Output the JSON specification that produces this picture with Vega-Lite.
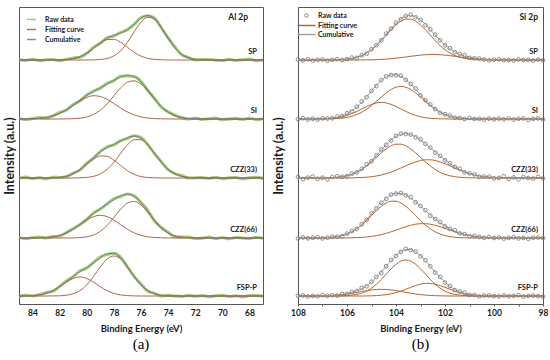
{
"$schema": "https://vega.github.io/schema/vega-lite/v6.json",
"padding": {"left": 2, "top": 6, "right": 2, "bottom": 0},
"spacing": 1,
"datasets": {
"al": [
{"s":"SP","x":85,"a":244,"b":244,"c":244,"r":244.5},
{"s":"SP","x":84.5,"a":244,"b":244,"c":244,"r":243.6},
{"s":"SP","x":84,"a":244,"b":244,"c":244,"r":244.8},
{"s":"SP","x":83.5,"a":244,"b":244,"c":244,"r":243.3},
{"s":"SP","x":83,"a":244,"b":244,"c":244,"r":244.3},
{"s":"SP","x":82.5,"a":244,"b":244,"c":244,"r":244.6},
{"s":"SP","x":82,"a":244,"b":244.1,"c":244.1,"r":243.2},
{"s":"SP","x":81.5,"a":244,"b":244.5,"c":244.5,"r":244.7},
{"s":"SP","x":81,"a":244,"b":245.4,"c":245.4,"r":246.1},
{"s":"SP","x":80.5,"a":244,"b":247.3,"c":247.3,"r":246.8},
{"s":"SP","x":80,"a":244,"b":250.8,"c":250.8,"r":250.6},
{"s":"SP","x":79.5,"a":244.1,"b":255.7,"c":255.8,"r":256.7},
{"s":"SP","x":79,"a":244.5,"b":260.8,"c":261.3,"r":260.7},
{"s":"SP","x":78.5,"a":245.5,"b":264.4,"c":265.9,"r":266.3},
{"s":"SP","x":78,"a":248.1,"b":264.7,"c":268.8,"r":268.0},
{"s":"SP","x":77.5,"a":253.3,"b":261.7,"c":271.0,"r":271.5},
{"s":"SP","x":77,"a":261.7,"b":256.7,"c":274.4,"r":274.4},
{"s":"SP","x":76.5,"a":272.3,"b":251.7,"c":280.0,"r":279.6},
{"s":"SP","x":76,"a":281.9,"b":247.9,"c":285.8,"r":286.5},
{"s":"SP","x":75.5,"a":286.8,"b":245.7,"c":288.5,"r":288.2},
{"s":"SP","x":75,"a":284.7,"b":244.6,"c":285.3,"r":285.9},
{"s":"SP","x":74.5,"a":276.5,"b":244.2,"c":276.7,"r":276.0},
{"s":"SP","x":74,"a":265.8,"b":244,"c":265.8,"r":266.1},
{"s":"SP","x":73.5,"a":256.3,"b":244,"c":256.3,"r":257.1},
{"s":"SP","x":73,"a":249.8,"b":244,"c":249.8,"r":249.3},
{"s":"SP","x":72.5,"a":246.3,"b":244,"c":246.3,"r":246.5},
{"s":"SP","x":72,"a":244.8,"b":244,"c":244.8,"r":243.9},
{"s":"SP","x":71.5,"a":244.2,"b":244,"c":244.2,"r":244.6},
{"s":"SP","x":71,"a":244,"b":244,"c":244,"r":244.6},
{"s":"SP","x":70.5,"a":244,"b":244,"c":244,"r":243.8},
{"s":"SP","x":70,"a":244,"b":244,"c":244,"r":243.4},
{"s":"SP","x":69.5,"a":244,"b":244,"c":244,"r":244.7},
{"s":"SP","x":69,"a":244,"b":244,"c":244,"r":243.6},
{"s":"SP","x":68.5,"a":244,"b":244,"c":244,"r":244.3},
{"s":"SP","x":68,"a":244,"b":244,"c":244,"r":244.9},
{"s":"SP","x":67.5,"a":244,"b":244,"c":244,"r":243.3},
{"s":"SP","x":67,"a":244,"b":244,"c":244,"r":244.1},
{"s":"SI","x":85,"a":185,"b":185,"c":185,"r":185.6},
{"s":"SI","x":84.5,"a":185,"b":185.1,"c":185.1,"r":184.2},
{"s":"SI","x":84,"a":185,"b":185.3,"c":185.3,"r":185.5},
{"s":"SI","x":83.5,"a":185,"b":185.7,"c":185.7,"r":186.4},
{"s":"SI","x":83,"a":185,"b":186.6,"c":186.6,"r":186.1},
{"s":"SI","x":82.5,"a":185,"b":188.2,"c":188.2,"r":188.0},
{"s":"SI","x":82,"a":185,"b":190.7,"c":190.7,"r":191.6},
{"s":"SI","x":81.5,"a":185.1,"b":194.3,"c":194.4,"r":193.8},
{"s":"SI","x":81,"a":185.3,"b":198.7,"c":199.0,"r":199.4},
{"s":"SI","x":80.5,"a":185.8,"b":203.1,"c":203.9,"r":203.1},
{"s":"SI","x":80,"a":187.0,"b":206.6,"c":208.6,"r":209.1},
{"s":"SI","x":79.5,"a":189.5,"b":208.3,"c":212.8,"r":212.8},
{"s":"SI","x":79,"a":193.8,"b":207.5,"c":216.3,"r":215.9},
{"s":"SI","x":78.5,"a":200.2,"b":204.7,"c":219.9,"r":220.6},
{"s":"SI","x":78,"a":208.2,"b":200.5,"c":223.7,"r":223.4},
{"s":"SI","x":77.5,"a":216.1,"b":196.0,"c":227.1,"r":227.7},
{"s":"SI","x":77,"a":221.8,"b":192.0,"c":228.8,"r":228.1},
{"s":"SI","x":76.5,"a":223.2,"b":189.1,"c":227.3,"r":227.6},
{"s":"SI","x":76,"a":219.9,"b":187.1,"c":222.0,"r":222.8},
{"s":"SI","x":75.5,"a":213.1,"b":186.0,"c":214.1,"r":213.6},
{"s":"SI","x":75,"a":204.9,"b":185.4,"c":205.3,"r":205.5},
{"s":"SI","x":74.5,"a":197.4,"b":185.2,"c":197.6,"r":196.7},
{"s":"SI","x":74,"a":191.8,"b":185.1,"c":191.9,"r":192.3},
{"s":"SI","x":73.5,"a":188.3,"b":185,"c":188.3,"r":188.9},
{"s":"SI","x":73,"a":186.4,"b":185,"c":186.4,"r":186.2},
{"s":"SI","x":72.5,"a":185.5,"b":185,"c":185.5,"r":184.9},
{"s":"SI","x":72,"a":185.2,"b":185,"c":185.2,"r":185.9},
{"s":"SI","x":71.5,"a":185,"b":185,"c":185,"r":184.6},
{"s":"SI","x":71,"a":185,"b":185,"c":185,"r":185.3},
{"s":"SI","x":70.5,"a":185,"b":185,"c":185,"r":185.9},
{"s":"SI","x":70,"a":185,"b":185,"c":185,"r":184.3},
{"s":"SI","x":69.5,"a":185,"b":185,"c":185,"r":185.1},
{"s":"SI","x":69,"a":185,"b":185,"c":185,"r":185.5},
{"s":"SI","x":68.5,"a":185,"b":185,"c":185,"r":184.6},
{"s":"SI","x":68,"a":185,"b":185,"c":185,"r":185.8},
{"s":"SI","x":67.5,"a":185,"b":185,"c":185,"r":184.3},
{"s":"SI","x":67,"a":185,"b":185,"c":185,"r":185.3},
{"s":"CZZ(33)","x":85,"a":126,"b":126,"c":126,"r":125.8},
{"s":"CZZ(33)","x":84.5,"a":126,"b":126,"c":126,"r":126.9},
{"s":"CZZ(33)","x":84,"a":126,"b":126,"c":126,"r":125.4},
{"s":"CZZ(33)","x":83.5,"a":126,"b":126,"c":126,"r":126.4},
{"s":"CZZ(33)","x":83,"a":126,"b":126,"c":126,"r":125.2},
{"s":"CZZ(33)","x":82.5,"a":126,"b":126.2,"c":126.2,"r":126.7},
{"s":"CZZ(33)","x":82,"a":126,"b":126.6,"c":126.6,"r":126.6},
{"s":"CZZ(33)","x":81.5,"a":126,"b":127.8,"c":127.8,"r":127.4},
{"s":"CZZ(33)","x":81,"a":126,"b":130.2,"c":130.2,"r":130.9},
{"s":"CZZ(33)","x":80.5,"a":126.2,"b":134.2,"c":134.4,"r":134.1},
{"s":"CZZ(33)","x":80,"a":126.6,"b":139.6,"c":140.2,"r":140.8},
{"s":"CZZ(33)","x":79.5,"a":127.7,"b":144.9,"c":146.6,"r":145.9},
{"s":"CZZ(33)","x":79,"a":130.1,"b":148.1,"c":152.2,"r":152.5},
{"s":"CZZ(33)","x":78.5,"a":134.7,"b":147.7,"c":156.4,"r":157.2},
{"s":"CZZ(33)","x":78,"a":141.7,"b":143.9,"c":159.6,"r":159.1},
{"s":"CZZ(33)","x":77.5,"a":150.6,"b":138.5,"c":163.1,"r":163.3},
{"s":"CZZ(33)","x":77,"a":159.1,"b":133.3,"c":166.4,"r":165.5},
{"s":"CZZ(33)","x":76.5,"a":164.3,"b":129.6,"c":167.9,"r":168.3},
{"s":"CZZ(33)","x":76,"a":164.3,"b":127.5,"c":165.8,"r":166.4},
{"s":"CZZ(33)","x":75.5,"a":159.1,"b":126.5,"c":159.6,"r":159.4},
{"s":"CZZ(33)","x":75,"a":150.6,"b":126.2,"c":150.8,"r":150.2},
{"s":"CZZ(33)","x":74.5,"a":141.7,"b":126,"c":141.7,"r":142.4},
{"s":"CZZ(33)","x":74,"a":134.7,"b":126,"c":134.7,"r":134.3},
{"s":"CZZ(33)","x":73.5,"a":130.1,"b":126,"c":130.1,"r":130.4},
{"s":"CZZ(33)","x":73,"a":127.7,"b":126,"c":127.7,"r":128.6},
{"s":"CZZ(33)","x":72.5,"a":126.6,"b":126,"c":126.6,"r":125.9},
{"s":"CZZ(33)","x":72,"a":126.2,"b":126,"c":126.2,"r":126.3},
{"s":"CZZ(33)","x":71.5,"a":126,"b":126,"c":126,"r":126.5},
{"s":"CZZ(33)","x":71,"a":126,"b":126,"c":126,"r":125.6},
{"s":"CZZ(33)","x":70.5,"a":126,"b":126,"c":126,"r":126.8},
{"s":"CZZ(33)","x":70,"a":126,"b":126,"c":126,"r":125.3},
{"s":"CZZ(33)","x":69.5,"a":126,"b":126,"c":126,"r":126.3},
{"s":"CZZ(33)","x":69,"a":126,"b":126,"c":126,"r":126.6},
{"s":"CZZ(33)","x":68.5,"a":126,"b":126,"c":126,"r":125.1},
{"s":"CZZ(33)","x":68,"a":126,"b":126,"c":126,"r":126.2},
{"s":"CZZ(33)","x":67.5,"a":126,"b":126,"c":126,"r":126.7},
{"s":"CZZ(33)","x":67,"a":126,"b":126,"c":126,"r":125.5},
{"s":"CZZ(66)","x":85,"a":66,"b":66,"c":66,"r":66.6},
{"s":"CZZ(66)","x":84.5,"a":66,"b":66,"c":66,"r":65.3},
{"s":"CZZ(66)","x":84,"a":66,"b":66.1,"c":66.1,"r":66.4},
{"s":"CZZ(66)","x":83.5,"a":66,"b":66.2,"c":66.2,"r":67.0},
{"s":"CZZ(66)","x":83,"a":66,"b":66.5,"c":66.5,"r":66.0},
{"s":"CZZ(66)","x":82.5,"a":66,"b":67.2,"c":67.2,"r":67.4},
{"s":"CZZ(66)","x":82,"a":66,"b":68.7,"c":68.7,"r":67.8},
{"s":"CZZ(66)","x":81.5,"a":66,"b":71.1,"c":71.1,"r":71.5},
{"s":"CZZ(66)","x":81,"a":66.1,"b":74.8,"c":74.9,"r":75.5},
{"s":"CZZ(66)","x":80.5,"a":66.4,"b":79.3,"c":79.7,"r":79.5},
{"s":"CZZ(66)","x":80,"a":67.2,"b":83.9,"c":85.1,"r":84.5},
{"s":"CZZ(66)","x":79.5,"a":69.0,"b":87.4,"c":90.4,"r":91.1},
{"s":"CZZ(66)","x":79,"a":72.7,"b":88.7,"c":95.4,"r":95.0},
{"s":"CZZ(66)","x":78.5,"a":78.6,"b":87.4,"c":100.0,"r":100.3},
{"s":"CZZ(66)","x":78,"a":86.5,"b":83.9,"c":104.4,"r":105.3},
{"s":"CZZ(66)","x":77.5,"a":94.9,"b":79.3,"c":108.2,"r":107.5},
{"s":"CZZ(66)","x":77,"a":101.0,"b":74.8,"c":109.8,"r":109.9},
{"s":"CZZ(66)","x":76.5,"a":102.6,"b":71.1,"c":107.7,"r":108.2},
{"s":"CZZ(66)","x":76,"a":99.0,"b":68.7,"c":101.7,"r":101.3},
{"s":"CZZ(66)","x":75.5,"a":91.7,"b":67.2,"c":92.9,"r":93.7},
{"s":"CZZ(66)","x":75,"a":83.2,"b":66.5,"c":83.7,"r":83.0},
{"s":"CZZ(66)","x":74.5,"a":76.0,"b":66.2,"c":76.2,"r":76.5},
{"s":"CZZ(66)","x":74,"a":71.0,"b":66.1,"c":71.1,"r":71.7},
{"s":"CZZ(66)","x":73.5,"a":68.1,"b":66,"c":68.1,"r":67.2},
{"s":"CZZ(66)","x":73,"a":66.8,"b":66,"c":66.8,"r":67.0},
{"s":"CZZ(66)","x":72.5,"a":66.3,"b":66,"c":66.3,"r":67.0},
{"s":"CZZ(66)","x":72,"a":66.1,"b":66,"c":66.1,"r":65.6},
{"s":"CZZ(66)","x":71.5,"a":66,"b":66,"c":66,"r":65.8},
{"s":"CZZ(66)","x":71,"a":66,"b":66,"c":66,"r":66.9},
{"s":"CZZ(66)","x":70.5,"a":66,"b":66,"c":66,"r":65.4},
{"s":"CZZ(66)","x":70,"a":66,"b":66,"c":66,"r":66.4},
{"s":"CZZ(66)","x":69.5,"a":66,"b":66,"c":66,"r":65.2},
{"s":"CZZ(66)","x":69,"a":66,"b":66,"c":66,"r":66.5},
{"s":"CZZ(66)","x":68.5,"a":66,"b":66,"c":66,"r":66.0},
{"s":"CZZ(66)","x":68,"a":66,"b":66,"c":66,"r":65.6},
{"s":"CZZ(66)","x":67.5,"a":66,"b":66,"c":66,"r":66.7},
{"s":"CZZ(66)","x":67,"a":66,"b":66,"c":66,"r":65.7},
{"s":"FSP-P","x":85,"a":8,"b":8,"c":8,"r":7.4},
{"s":"FSP-P","x":84.5,"a":8,"b":8.1,"c":8.1,"r":8.8},
{"s":"FSP-P","x":84,"a":8,"b":8.4,"c":8.4,"r":8.0},
{"s":"FSP-P","x":83.5,"a":8,"b":9.1,"c":9.1,"r":9.4},
{"s":"FSP-P","x":83,"a":8,"b":10.6,"c":10.6,"r":11.5},
{"s":"FSP-P","x":82.5,"a":8.1,"b":13.3,"c":13.4,"r":12.7},
{"s":"FSP-P","x":82,"a":8.2,"b":17.3,"c":17.5,"r":17.6},
{"s":"FSP-P","x":81.5,"a":8.8,"b":21.8,"c":22.6,"r":23.1},
{"s":"FSP-P","x":81,"a":10.3,"b":25.5,"c":27.8,"r":27.4},
{"s":"FSP-P","x":80.5,"a":13.4,"b":27.0,"c":32.4,"r":33.2},
{"s":"FSP-P","x":80,"a":19.1,"b":25.5,"c":36.6,"r":35.9},
{"s":"FSP-P","x":79.5,"a":27.5,"b":21.8,"c":41.3,"r":41.6},
{"s":"FSP-P","x":79,"a":37.1,"b":17.3,"c":46.4,"r":47.0},
{"s":"FSP-P","x":78.5,"a":45.0,"b":13.3,"c":50.3,"r":49.4},
{"s":"FSP-P","x":78,"a":48.0,"b":10.6,"c":50.6,"r":50.8},
{"s":"FSP-P","x":77.5,"a":45.0,"b":9.1,"c":46.1,"r":46.8},
{"s":"FSP-P","x":77,"a":37.1,"b":8.4,"c":37.5,"r":37.0},
{"s":"FSP-P","x":76.5,"a":27.5,"b":8.1,"c":27.6,"r":27.4},
{"s":"FSP-P","x":76,"a":19.1,"b":8,"c":19.1,"r":20.0},
{"s":"FSP-P","x":75.5,"a":13.4,"b":8,"c":13.4,"r":12.8},
{"s":"FSP-P","x":75,"a":10.3,"b":8,"c":10.3,"r":10.7},
{"s":"FSP-P","x":74.5,"a":8.8,"b":8,"c":8.8,"r":8.0},
{"s":"FSP-P","x":74,"a":8.2,"b":8,"c":8.2,"r":8.7},
{"s":"FSP-P","x":73.5,"a":8.1,"b":8,"c":8.1,"r":8.1},
{"s":"FSP-P","x":73,"a":8,"b":8,"c":8,"r":7.6},
{"s":"FSP-P","x":72.5,"a":8,"b":8,"c":8,"r":8.7},
{"s":"FSP-P","x":72,"a":8,"b":8,"c":8,"r":7.7},
{"s":"FSP-P","x":71.5,"a":8,"b":8,"c":8,"r":8.6},
{"s":"FSP-P","x":71,"a":8,"b":8,"c":8,"r":7.3},
{"s":"FSP-P","x":70.5,"a":8,"b":8,"c":8,"r":8.3},
{"s":"FSP-P","x":70,"a":8,"b":8,"c":8,"r":8.8},
{"s":"FSP-P","x":69.5,"a":8,"b":8,"c":8,"r":7.5},
{"s":"FSP-P","x":69,"a":8,"b":8,"c":8,"r":8.2},
{"s":"FSP-P","x":68.5,"a":8,"b":8,"c":8,"r":7.1},
{"s":"FSP-P","x":68,"a":8,"b":8,"c":8,"r":8.4},
{"s":"FSP-P","x":67.5,"a":8,"b":8,"c":8,"r":8.6},
{"s":"FSP-P","x":67,"a":8,"b":8,"c":8,"r":7.8}
],
"si": [
{"s":"SP","x":108,"a":244,"b":244,"c":244,"r":244.4},
{"s":"SP","x":107.8,"a":244,"b":244,"c":244,"r":243.7},
{"s":"SP","x":107.6,"a":244,"b":244,"c":244,"r":244.7},
{"s":"SP","x":107.4,"a":244,"b":244,"c":244,"r":243.4},
{"s":"SP","x":107.2,"a":244,"b":244,"c":244,"r":244.2},
{"s":"SP","x":107,"a":244,"b":244,"c":244,"r":244.5},
{"s":"SP","x":106.8,"a":244,"b":244,"c":244,"r":243.2},
{"s":"SP","x":106.6,"a":244.1,"b":244,"c":244.1,"r":244.2},
{"s":"SP","x":106.4,"a":244.2,"b":244,"c":244.2,"r":244.8},
{"s":"SP","x":106.2,"a":244.5,"b":244,"c":244.5,"r":244.1},
{"s":"SP","x":106,"a":244.9,"b":244,"c":244.9,"r":244.8},
{"s":"SP","x":105.8,"a":245.6,"b":244,"c":245.6,"r":246.4},
{"s":"SP","x":105.6,"a":246.7,"b":244,"c":246.7,"r":246.2},
{"s":"SP","x":105.4,"a":248.4,"b":244.1,"c":248.5,"r":248.8},
{"s":"SP","x":105.2,"a":250.9,"b":244.1,"c":251.0,"r":250.3},
{"s":"SP","x":105,"a":254.2,"b":244.2,"c":254.4,"r":254.8},
{"s":"SP","x":104.8,"a":258.4,"b":244.4,"c":258.8,"r":258.8},
{"s":"SP","x":104.6,"a":263.4,"b":244.6,"c":264.0,"r":263.7},
{"s":"SP","x":104.4,"a":268.9,"b":244.9,"c":269.8,"r":270.4},
{"s":"SP","x":104.2,"a":274.3,"b":245.3,"c":275.6,"r":275.4},
{"s":"SP","x":104,"a":279.1,"b":245.8,"c":280.9,"r":281.4},
{"s":"SP","x":103.8,"a":282.8,"b":246.4,"c":285.2,"r":284.6},
{"s":"SP","x":103.6,"a":284.8,"b":247.0,"c":287.8,"r":288.0},
{"s":"SP","x":103.4,"a":284.8,"b":247.7,"c":288.5,"r":289.2},
{"s":"SP","x":103.2,"a":282.8,"b":248.3,"c":287.1,"r":286.7},
{"s":"SP","x":103,"a":279.1,"b":248.9,"c":284.0,"r":284.1},
{"s":"SP","x":102.8,"a":274.3,"b":249.3,"c":279.6,"r":278.8},
{"s":"SP","x":102.6,"a":268.9,"b":249.5,"c":274.4,"r":274.7},
{"s":"SP","x":102.4,"a":263.4,"b":249.5,"c":268.9,"r":269.4},
{"s":"SP","x":102.2,"a":258.4,"b":249.3,"c":263.7,"r":263.6},
{"s":"SP","x":102,"a":254.2,"b":248.9,"c":259.1,"r":258.6},
{"s":"SP","x":101.8,"a":250.9,"b":248.3,"c":255.2,"r":255.8},
{"s":"SP","x":101.6,"a":248.4,"b":247.7,"c":252.1,"r":251.8},
{"s":"SP","x":101.4,"a":246.7,"b":247.0,"c":249.7,"r":249.9},
{"s":"SP","x":101.2,"a":245.6,"b":246.4,"c":248.0,"r":248.8},
{"s":"SP","x":101,"a":244.9,"b":245.8,"c":246.7,"r":246.1},
{"s":"SP","x":100.8,"a":244.5,"b":245.3,"c":245.8,"r":245.8},
{"s":"SP","x":100.6,"a":244.2,"b":244.9,"c":245.1,"r":245.5},
{"s":"SP","x":100.4,"a":244.1,"b":244.6,"c":244.7,"r":244.5},
{"s":"SP","x":100.2,"a":244,"b":244.4,"c":244.4,"r":243.7},
{"s":"SP","x":100,"a":244,"b":244.2,"c":244.2,"r":244.5},
{"s":"SP","x":99.8,"a":244,"b":244.1,"c":244.1,"r":244.7},
{"s":"SP","x":99.6,"a":244,"b":244.1,"c":244.1,"r":243.7},
{"s":"SP","x":99.4,"a":244,"b":244,"c":244,"r":244.1},
{"s":"SP","x":99.2,"a":244,"b":244,"c":244,"r":243.5},
{"s":"SP","x":99,"a":244,"b":244,"c":244,"r":244.7},
{"s":"SP","x":98.8,"a":244,"b":244,"c":244,"r":243.9},
{"s":"SP","x":98.6,"a":244,"b":244,"c":244,"r":244.2},
{"s":"SP","x":98.4,"a":244,"b":244,"c":244,"r":243.4},
{"s":"SP","x":98.2,"a":244,"b":244,"c":244,"r":244.4},
{"s":"SP","x":98,"a":244,"b":244,"c":244,"r":243.7},
{"s":"SI","x":108,"a":185,"b":185,"c":185,"r":184.9},
{"s":"SI","x":107.8,"a":185,"b":185,"c":185,"r":185.8},
{"s":"SI","x":107.6,"a":185,"b":185,"c":185,"r":184.5},
{"s":"SI","x":107.4,"a":185,"b":185,"c":185,"r":185.3},
{"s":"SI","x":107.2,"a":185,"b":185.1,"c":185.1,"r":184.4},
{"s":"SI","x":107,"a":185,"b":185.2,"c":185.2,"r":185.6},
{"s":"SI","x":106.8,"a":185.1,"b":185.4,"c":185.5,"r":185.5},
{"s":"SI","x":106.6,"a":185.3,"b":185.7,"c":186.0,"r":185.7},
{"s":"SI","x":106.4,"a":185.5,"b":186.3,"c":186.8,"r":187.4},
{"s":"SI","x":106.2,"a":185.9,"b":187.2,"c":188.1,"r":187.9},
{"s":"SI","x":106,"a":186.6,"b":188.6,"c":190.2,"r":190.7},
{"s":"SI","x":105.8,"a":187.8,"b":190.4,"c":193.2,"r":192.6},
{"s":"SI","x":105.6,"a":189.4,"b":192.6,"c":197.0,"r":197.2},
{"s":"SI","x":105.4,"a":191.7,"b":195.1,"c":201.8,"r":202.5},
{"s":"SI","x":105.2,"a":194.7,"b":197.5,"c":207.2,"r":206.8},
{"s":"SI","x":105,"a":198.4,"b":199.6,"c":213.0,"r":213.1},
{"s":"SI","x":104.8,"a":202.6,"b":201.1,"c":218.7,"r":217.9},
{"s":"SI","x":104.6,"a":207.0,"b":201.6,"c":223.6,"r":223.9},
{"s":"SI","x":104.4,"a":211.1,"b":201.1,"c":227.2,"r":227.7},
{"s":"SI","x":104.2,"a":214.5,"b":199.6,"c":229.1,"r":229.0},
{"s":"SI","x":104,"a":216.8,"b":197.5,"c":229.3,"r":228.8},
{"s":"SI","x":103.8,"a":217.6,"b":195.1,"c":227.7,"r":228.3},
{"s":"SI","x":103.6,"a":216.8,"b":192.6,"c":224.4,"r":224.1},
{"s":"SI","x":103.4,"a":214.5,"b":190.4,"c":219.9,"r":220.1},
{"s":"SI","x":103.2,"a":211.1,"b":188.6,"c":214.7,"r":215.5},
{"s":"SI","x":103,"a":207.0,"b":187.2,"c":209.2,"r":208.6},
{"s":"SI","x":102.8,"a":202.6,"b":186.3,"c":203.9,"r":203.9},
{"s":"SI","x":102.6,"a":198.4,"b":185.7,"c":199.1,"r":199.5},
{"s":"SI","x":102.4,"a":194.7,"b":185.4,"c":195.1,"r":194.9},
{"s":"SI","x":102.2,"a":191.7,"b":185.2,"c":191.9,"r":191.2},
{"s":"SI","x":102,"a":189.4,"b":185.1,"c":189.5,"r":189.8},
{"s":"SI","x":101.8,"a":187.8,"b":185,"c":187.8,"r":188.4},
{"s":"SI","x":101.6,"a":186.6,"b":185,"c":186.6,"r":186.2},
{"s":"SI","x":101.4,"a":185.9,"b":185,"c":185.9,"r":186.0},
{"s":"SI","x":101.2,"a":185.5,"b":185,"c":185.5,"r":185.0},
{"s":"SI","x":101,"a":185.3,"b":185,"c":185.3,"r":186.0},
{"s":"SI","x":100.8,"a":185.1,"b":185,"c":185.1,"r":185.0},
{"s":"SI","x":100.6,"a":185,"b":185,"c":185,"r":185.2},
{"s":"SI","x":100.4,"a":185,"b":185,"c":185,"r":184.4},
{"s":"SI","x":100.2,"a":185,"b":185,"c":185,"r":185.4},
{"s":"SI","x":100,"a":185,"b":185,"c":185,"r":184.7},
{"s":"SI","x":99.8,"a":185,"b":185,"c":185,"r":185.4},
{"s":"SI","x":99.6,"a":185,"b":185,"c":185,"r":184.7},
{"s":"SI","x":99.4,"a":185,"b":185,"c":185,"r":185.7},
{"s":"SI","x":99.2,"a":185,"b":185,"c":185,"r":184.4},
{"s":"SI","x":99,"a":185,"b":185,"c":185,"r":185.2},
{"s":"SI","x":98.8,"a":185,"b":185,"c":185,"r":185.5},
{"s":"SI","x":98.6,"a":185,"b":185,"c":185,"r":184.2},
{"s":"SI","x":98.4,"a":185,"b":185,"c":185,"r":185.1},
{"s":"SI","x":98.2,"a":185,"b":185,"c":185,"r":185.6},
{"s":"SI","x":98,"a":185,"b":185,"c":185,"r":184.6},
{"s":"CZZ(33)","x":108,"a":126,"b":126,"c":126,"r":127.0},
{"s":"CZZ(33)","x":107.8,"a":126,"b":126,"c":126,"r":124.8},
{"s":"CZZ(33)","x":107.6,"a":126,"b":126,"c":126,"r":126.4},
{"s":"CZZ(33)","x":107.4,"a":126,"b":126,"c":126,"r":127.4},
{"s":"CZZ(33)","x":107.2,"a":126,"b":126,"c":126,"r":125.2},
{"s":"CZZ(33)","x":107,"a":126.1,"b":126,"c":126.1,"r":126.3},
{"s":"CZZ(33)","x":106.8,"a":126.2,"b":126,"c":126.2,"r":124.6},
{"s":"CZZ(33)","x":106.6,"a":126.4,"b":126,"c":126.4,"r":127.0},
{"s":"CZZ(33)","x":106.4,"a":126.7,"b":126,"c":126.7,"r":127.7},
{"s":"CZZ(33)","x":106.2,"a":127.3,"b":126,"c":127.3,"r":127.2},
{"s":"CZZ(33)","x":106,"a":128.2,"b":126.1,"c":128.3,"r":127.8},
{"s":"CZZ(33)","x":105.8,"a":129.7,"b":126.1,"c":129.8,"r":130.4},
{"s":"CZZ(33)","x":105.6,"a":131.7,"b":126.3,"c":132.0,"r":131.7},
{"s":"CZZ(33)","x":105.4,"a":134.5,"b":126.5,"c":135.0,"r":135.2},
{"s":"CZZ(33)","x":105.2,"a":138.0,"b":126.8,"c":138.8,"r":139.6},
{"s":"CZZ(33)","x":105,"a":142.1,"b":127.3,"c":143.4,"r":142.8},
{"s":"CZZ(33)","x":104.8,"a":146.6,"b":128.0,"c":148.6,"r":148.6},
{"s":"CZZ(33)","x":104.6,"a":151.1,"b":129.0,"c":154.1,"r":154.5},
{"s":"CZZ(33)","x":104.4,"a":155.1,"b":130.3,"c":159.4,"r":159.2},
{"s":"CZZ(33)","x":104.2,"a":158.2,"b":131.9,"c":164.1,"r":163.4},
{"s":"CZZ(33)","x":104,"a":159.8,"b":133.9,"c":167.7,"r":168.0},
{"s":"CZZ(33)","x":103.8,"a":159.8,"b":136.0,"c":169.8,"r":170.4},
{"s":"CZZ(33)","x":103.6,"a":158.2,"b":138.2,"c":170.4,"r":170.0},
{"s":"CZZ(33)","x":103.4,"a":155.1,"b":140.3,"c":169.4,"r":169.5},
{"s":"CZZ(33)","x":103.2,"a":151.1,"b":142.1,"c":167.2,"r":166.7},
{"s":"CZZ(33)","x":103,"a":146.6,"b":143.5,"c":164.1,"r":164.8},
{"s":"CZZ(33)","x":102.8,"a":142.1,"b":144.2,"c":160.3,"r":160.2},
{"s":"CZZ(33)","x":102.6,"a":138.0,"b":144.2,"c":156.2,"r":156.4},
{"s":"CZZ(33)","x":102.4,"a":134.5,"b":143.5,"c":152.0,"r":151.4},
{"s":"CZZ(33)","x":102.2,"a":131.7,"b":142.1,"c":147.8,"r":148.2},
{"s":"CZZ(33)","x":102,"a":129.7,"b":140.3,"c":144.0,"r":143.7},
{"s":"CZZ(33)","x":101.8,"a":128.2,"b":138.2,"c":140.4,"r":140.8},
{"s":"CZZ(33)","x":101.6,"a":127.3,"b":136.0,"c":137.3,"r":137.0},
{"s":"CZZ(33)","x":101.4,"a":126.7,"b":133.9,"c":134.6,"r":135.3},
{"s":"CZZ(33)","x":101.2,"a":126.4,"b":131.9,"c":132.3,"r":131.7},
{"s":"CZZ(33)","x":101,"a":126.2,"b":130.3,"c":130.5,"r":130.7},
{"s":"CZZ(33)","x":100.8,"a":126.1,"b":129.0,"c":129.1,"r":129.6},
{"s":"CZZ(33)","x":100.6,"a":126,"b":128.0,"c":128.0,"r":127.2},
{"s":"CZZ(33)","x":100.4,"a":126,"b":127.3,"c":127.3,"r":127.4},
{"s":"CZZ(33)","x":100.2,"a":126,"b":126.8,"c":126.8,"r":127.4},
{"s":"CZZ(33)","x":100,"a":126,"b":126.5,"c":126.5,"r":125.7},
{"s":"CZZ(33)","x":99.8,"a":126,"b":126.3,"c":126.3,"r":126.1},
{"s":"CZZ(33)","x":99.6,"a":126,"b":126.1,"c":126.1,"r":127.7},
{"s":"CZZ(33)","x":99.4,"a":126,"b":126.1,"c":126.1,"r":125.1},
{"s":"CZZ(33)","x":99.2,"a":126,"b":126,"c":126,"r":126.6},
{"s":"CZZ(33)","x":99,"a":126,"b":126,"c":126,"r":124.6},
{"s":"CZZ(33)","x":98.8,"a":126,"b":126,"c":126,"r":126.8},
{"s":"CZZ(33)","x":98.6,"a":126,"b":126,"c":126,"r":126.0},
{"s":"CZZ(33)","x":98.4,"a":126,"b":126,"c":126,"r":125.4},
{"s":"CZZ(33)","x":98.2,"a":126,"b":126,"c":126,"r":127.2},
{"s":"CZZ(33)","x":98,"a":126,"b":126,"c":126,"r":125.6},
{"s":"CZZ(66)","x":108,"a":66,"b":66,"c":66,"r":65.5},
{"s":"CZZ(66)","x":107.8,"a":66,"b":66,"c":66,"r":66.6},
{"s":"CZZ(66)","x":107.6,"a":66,"b":66,"c":66,"r":65.7},
{"s":"CZZ(66)","x":107.4,"a":66,"b":66,"c":66,"r":66.2},
{"s":"CZZ(66)","x":107.2,"a":66.1,"b":66,"c":66.1,"r":66.9},
{"s":"CZZ(66)","x":107,"a":66.2,"b":66,"c":66.2,"r":65.6},
{"s":"CZZ(66)","x":106.8,"a":66.4,"b":66,"c":66.4,"r":66.4},
{"s":"CZZ(66)","x":106.6,"a":66.8,"b":66,"c":66.8,"r":67.2},
{"s":"CZZ(66)","x":106.4,"a":67.4,"b":66,"c":67.4,"r":67.2},
{"s":"CZZ(66)","x":106.2,"a":68.4,"b":66,"c":68.4,"r":67.7},
{"s":"CZZ(66)","x":106,"a":70.0,"b":66.1,"c":70.1,"r":70.4},
{"s":"CZZ(66)","x":105.8,"a":72.2,"b":66.2,"c":72.4,"r":73.0},
{"s":"CZZ(66)","x":105.6,"a":75.2,"b":66.4,"c":75.6,"r":75.2},
{"s":"CZZ(66)","x":105.4,"a":79.0,"b":66.6,"c":79.6,"r":79.7},
{"s":"CZZ(66)","x":105.2,"a":83.5,"b":67.0,"c":84.5,"r":84.0},
{"s":"CZZ(66)","x":105,"a":88.5,"b":67.6,"c":90.1,"r":90.8},
{"s":"CZZ(66)","x":104.8,"a":93.3,"b":68.4,"c":95.7,"r":95.6},
{"s":"CZZ(66)","x":104.6,"a":97.7,"b":69.4,"c":101.1,"r":101.3},
{"s":"CZZ(66)","x":104.4,"a":101.0,"b":70.7,"c":105.7,"r":105.1},
{"s":"CZZ(66)","x":104.2,"a":102.8,"b":72.2,"c":109.0,"r":109.4},
{"s":"CZZ(66)","x":104,"a":102.8,"b":73.9,"c":110.7,"r":110.4},
{"s":"CZZ(66)","x":103.8,"a":101.0,"b":75.6,"c":110.6,"r":111.0},
{"s":"CZZ(66)","x":103.6,"a":97.7,"b":77.3,"c":109.0,"r":108.7},
{"s":"CZZ(66)","x":103.4,"a":93.3,"b":78.7,"c":106.0,"r":106.7},
{"s":"CZZ(66)","x":103.2,"a":88.5,"b":79.8,"c":102.3,"r":101.7},
{"s":"CZZ(66)","x":103,"a":83.5,"b":80.3,"c":97.8,"r":98.0},
{"s":"CZZ(66)","x":102.8,"a":79.0,"b":80.3,"c":93.3,"r":93.8},
{"s":"CZZ(66)","x":102.6,"a":75.2,"b":79.8,"c":89.0,"r":88.2},
{"s":"CZZ(66)","x":102.4,"a":72.2,"b":78.7,"c":84.9,"r":85.0},
{"s":"CZZ(66)","x":102.2,"a":70.0,"b":77.3,"c":81.3,"r":81.9},
{"s":"CZZ(66)","x":102,"a":68.4,"b":75.6,"c":78.0,"r":77.6},
{"s":"CZZ(66)","x":101.8,"a":67.4,"b":73.9,"c":75.3,"r":75.2},
{"s":"CZZ(66)","x":101.6,"a":66.8,"b":72.2,"c":73.0,"r":73.8},
{"s":"CZZ(66)","x":101.4,"a":66.4,"b":70.7,"c":71.1,"r":70.6},
{"s":"CZZ(66)","x":101.2,"a":66.2,"b":69.4,"c":69.6,"r":69.9},
{"s":"CZZ(66)","x":101,"a":66.1,"b":68.4,"c":68.5,"r":67.8},
{"s":"CZZ(66)","x":100.8,"a":66,"b":67.6,"c":67.6,"r":68.0},
{"s":"CZZ(66)","x":100.6,"a":66,"b":67.0,"c":67.0,"r":67.0},
{"s":"CZZ(66)","x":100.4,"a":66,"b":66.6,"c":66.6,"r":66.3},
{"s":"CZZ(66)","x":100.2,"a":66,"b":66.4,"c":66.4,"r":67.0},
{"s":"CZZ(66)","x":100,"a":66,"b":66.2,"c":66.2,"r":66.0},
{"s":"CZZ(66)","x":99.8,"a":66,"b":66.1,"c":66.1,"r":66.6},
{"s":"CZZ(66)","x":99.6,"a":66,"b":66,"c":66,"r":65.4},
{"s":"CZZ(66)","x":99.4,"a":66,"b":66,"c":66,"r":66.2},
{"s":"CZZ(66)","x":99.2,"a":66,"b":66,"c":66,"r":66.7},
{"s":"CZZ(66)","x":99,"a":66,"b":66,"c":66,"r":65.6},
{"s":"CZZ(66)","x":98.8,"a":66,"b":66,"c":66,"r":66.1},
{"s":"CZZ(66)","x":98.6,"a":66,"b":66,"c":66,"r":65.2},
{"s":"CZZ(66)","x":98.4,"a":66,"b":66,"c":66,"r":66.3},
{"s":"CZZ(66)","x":98.2,"a":66,"b":66,"c":66,"r":66.5},
{"s":"CZZ(66)","x":98,"a":66,"b":66,"c":66,"r":65.9},
{"s":"FSP-P","x":108,"a":8,"b":8,"d":8,"c":8,"r":8.3},
{"s":"FSP-P","x":107.8,"a":8,"b":8,"d":8,"c":8,"r":8.6},
{"s":"FSP-P","x":107.6,"a":8,"b":8,"d":8,"c":8,"r":7.6},
{"s":"FSP-P","x":107.4,"a":8,"b":8,"d":8,"c":8,"r":8.1},
{"s":"FSP-P","x":107.2,"a":8,"b":8,"d":8.1,"c":8.1,"r":7.6},
{"s":"FSP-P","x":107,"a":8,"b":8,"d":8.2,"c":8.2,"r":8.9},
{"s":"FSP-P","x":106.8,"a":8,"b":8,"d":8.3,"c":8.3,"r":8.2},
{"s":"FSP-P","x":106.6,"a":8,"b":8,"d":8.6,"c":8.6,"r":8.8},
{"s":"FSP-P","x":106.4,"a":8.1,"b":8,"d":8.9,"c":9.0,"r":8.4},
{"s":"FSP-P","x":106.2,"a":8.2,"b":8,"d":9.4,"c":9.6,"r":10.0},
{"s":"FSP-P","x":106,"a":8.4,"b":8,"d":10.0,"c":10.4,"r":10.1},
{"s":"FSP-P","x":105.8,"a":8.9,"b":8,"d":10.8,"c":11.7,"r":12.1},
{"s":"FSP-P","x":105.6,"a":9.6,"b":8,"d":11.6,"c":13.2,"r":12.9},
{"s":"FSP-P","x":105.4,"a":10.8,"b":8,"d":12.5,"c":15.3,"r":16.0},
{"s":"FSP-P","x":105.2,"a":12.8,"b":8.1,"d":13.4,"c":18.3,"r":17.7},
{"s":"FSP-P","x":105,"a":15.8,"b":8.2,"d":14.1,"c":22.1,"r":22.3},
{"s":"FSP-P","x":104.8,"a":19.7,"b":8.4,"d":14.5,"c":26.6,"r":27.1},
{"s":"FSP-P","x":104.6,"a":24.5,"b":8.8,"d":14.7,"c":32.0,"r":31.2},
{"s":"FSP-P","x":104.4,"a":29.9,"b":9.3,"d":14.5,"c":37.7,"r":37.8},
{"s":"FSP-P","x":104.2,"a":35.2,"b":10.2,"d":14.1,"c":43.5,"r":44.1},
{"s":"FSP-P","x":104,"a":39.7,"b":11.4,"d":13.4,"c":48.5,"r":48.1},
{"s":"FSP-P","x":103.8,"a":42.9,"b":12.9,"d":12.5,"c":52.3,"r":52.2},
{"s":"FSP-P","x":103.6,"a":44.0,"b":14.7,"d":11.6,"c":54.3,"r":55.1},
{"s":"FSP-P","x":103.4,"a":42.9,"b":16.7,"d":10.8,"c":54.4,"r":53.9},
{"s":"FSP-P","x":103.2,"a":39.7,"b":18.5,"d":10.0,"c":52.2,"r":52.5},
{"s":"FSP-P","x":103,"a":35.2,"b":19.8,"d":9.4,"c":48.4,"r":47.7},
{"s":"FSP-P","x":102.8,"a":29.9,"b":20.6,"d":8.9,"c":43.4,"r":43.8},
{"s":"FSP-P","x":102.6,"a":24.5,"b":20.6,"d":8.6,"c":37.7,"r":37.7},
{"s":"FSP-P","x":102.4,"a":19.7,"b":19.8,"d":8.3,"c":31.8,"r":31.5},
{"s":"FSP-P","x":102.2,"a":15.8,"b":18.5,"d":8.2,"c":26.5,"r":27.1},
{"s":"FSP-P","x":102,"a":12.8,"b":16.7,"d":8.1,"c":21.6,"r":21.4},
{"s":"FSP-P","x":101.8,"a":10.8,"b":14.7,"d":8,"c":17.5,"r":18.0},
{"s":"FSP-P","x":101.6,"a":9.6,"b":12.9,"d":8,"c":14.5,"r":13.9},
{"s":"FSP-P","x":101.4,"a":8.9,"b":11.4,"d":8,"c":12.3,"r":12.5},
{"s":"FSP-P","x":101.2,"a":8.4,"b":10.2,"d":8,"c":10.6,"r":11.3},
{"s":"FSP-P","x":101,"a":8.2,"b":9.3,"d":8,"c":9.5,"r":9.1},
{"s":"FSP-P","x":100.8,"a":8.1,"b":8.8,"d":8,"c":8.9,"r":9.0},
{"s":"FSP-P","x":100.6,"a":8,"b":8.4,"d":8,"c":8.4,"r":7.6},
{"s":"FSP-P","x":100.4,"a":8,"b":8.2,"d":8,"c":8.2,"r":8.5},
{"s":"FSP-P","x":100.2,"a":8,"b":8.1,"d":8,"c":8.1,"r":8.6},
{"s":"FSP-P","x":100,"a":8,"b":8,"d":8,"c":8,"r":7.9},
{"s":"FSP-P","x":99.8,"a":8,"b":8,"d":8,"c":8,"r":7.5},
{"s":"FSP-P","x":99.6,"a":8,"b":8,"d":8,"c":8,"r":8.6},
{"s":"FSP-P","x":99.4,"a":8,"b":8,"d":8,"c":8,"r":7.7},
{"s":"FSP-P","x":99.2,"a":8,"b":8,"d":8,"c":8,"r":8.2},
{"s":"FSP-P","x":99,"a":8,"b":8,"d":8,"c":8,"r":8.8},
{"s":"FSP-P","x":98.8,"a":8,"b":8,"d":8,"c":8,"r":7.4},
{"s":"FSP-P","x":98.6,"a":8,"b":8,"d":8,"c":8,"r":8.0},
{"s":"FSP-P","x":98.4,"a":8,"b":8,"d":8,"c":8,"r":8.4},
{"s":"FSP-P","x":98.2,"a":8,"b":8,"d":8,"c":8,"r":7.8},
{"s":"FSP-P","x":98,"a":8,"b":8,"d":8,"c":8,"r":7.3}
]
},
"hconcat": [
{
"width": 244, "height": 297,
"data": {"name": "al"},
"title": {"text": "(a)", "orient": "bottom", "font": "Liberation Serif", "fontSize": 15, "fontWeight": "normal", "color": "#000000", "offset": 4},
"encoding": {
"x": {"field": "x", "type": "quantitative", "scale": {"domain": [67, 85], "reverse": true, "nice": false, "zero": false},
"axis": {"title": "Binding Energy (eV)", "values": [84, 82, 80, 78, 76, 74, 72, 70, 68], "ticks": false, "labelPadding": 4, "titlePadding": 7}}
},
"layer": [
{"mark": {"type": "line", "strokeWidth": 3, "opacity": 0.9, "interpolate": "monotone"},
"encoding": {
"y": {"field": "r", "type": "quantitative", "scale": {"domain": [0, 297], "nice": false, "zero": false}, "axis": {"title": "Intensity (a.u.)", "labels": false, "ticks": false, "titlePadding": 3, "minExtent": 0}},
"detail": {"field": "s"},
"color": {"datum": "Raw data", "type": "nominal",
"scale": {"domain": ["Raw data", "Fitting curve", "Cumulative"], "range": ["#93c86e", "#b0654a", "#7d7d7d"]},
"legend": {"title": null, "offset": 7,
"encode": {"symbols": {"update": {
"shape": {"signal": "datum.value === 'Raw data' ? 'circle' : 'stroke'"},
"size": {"signal": "datum.value === 'Raw data' ? 8 : 324"},
"fill": {"signal": "datum.value === 'Raw data' ? '#a6d9b0' : 'transparent'"},
"strokeWidth": {"signal": "datum.value === 'Raw data' ? 0 : 1.5"}}}}}}
}},
{"transform": [{"fold": ["a", "b"], "as": ["k", "v"]}],
"mark": {"type": "line", "strokeWidth": 1, "interpolate": "monotone"},
"encoding": {"y": {"field": "v", "type": "quantitative"}, "detail": [{"field": "s"}, {"field": "k"}], "color": {"datum": "Fitting curve", "type": "nominal"}}},
{"mark": {"type": "line", "strokeWidth": 1, "interpolate": "monotone"},
"encoding": {"y": {"field": "c", "type": "quantitative"}, "detail": {"field": "s"}, "color": {"datum": "Cumulative", "type": "nominal"}}},
{"transform": [{"filter": "datum.x == 67"}],
"mark": {"type": "text", "align": "right", "baseline": "bottom", "dx": -6, "dy": -4, "font": "Lato", "fontSize": 7.5, "fontWeight": "bold", "color": "#1a1a1a"},
"encoding": {"y": {"field": "c", "type": "quantitative"}, "text": {"field": "s"}}},
{"transform": [{"filter": "datum.x == 67 && datum.s == 'SP'"}],
"mark": {"type": "text", "text": "Al 2p", "align": "right", "baseline": "middle", "font": "Lato", "fontSize": 8.5, "fontWeight": "bold", "color": "#1a1a1a"},
"encoding": {"x": {"datum": 68.1}, "y": {"datum": 287}}}
]
},
{
"width": 245, "height": 297,
"data": {"name": "si"},
"title": {"text": "(b)", "orient": "bottom", "font": "Liberation Serif", "fontSize": 15, "fontWeight": "normal", "color": "#000000", "offset": 4},
"encoding": {
"x": {"field": "x", "type": "quantitative", "scale": {"domain": [98, 108], "reverse": true, "nice": false, "zero": false},
"axis": {"title": "Binding Energy (eV)", "values": [98, 99, 100, 101, 102, 103, 104, 105, 106, 107, 108], "labelExpr": "datum.value % 2 == 0 ? datum.label : ''", "ticks": true, "tickSize": 2, "tickColor": "#555555", "labelPadding": 2, "titlePadding": 7}}
},
"layer": [
{"transform": [{"fold": ["a", "b", "d"], "as": ["k", "v"]}],
"mark": {"type": "line", "strokeWidth": 1, "interpolate": "monotone"},
"encoding": {
"y": {"field": "v", "type": "quantitative", "scale": {"domain": [0, 297], "nice": false, "zero": false}, "axis": {"title": "Intensity (a.u.)", "labels": false, "ticks": false, "titlePadding": 13, "minExtent": 0}},
"detail": [{"field": "s"}, {"field": "k"}],
"color": {"datum": "Fitting curve", "type": "nominal",
"scale": {"domain": ["Raw data", "Fitting curve", "Cumulative"], "range": ["#7f7f7f", "#b5652d", "#a0a0a0"]},
"legend": {"title": null, "offset": 5,
"encode": {"symbols": {"update": {
"shape": {"signal": "datum.value === 'Raw data' ? 'circle' : 'stroke'"},
"size": {"signal": "datum.value === 'Raw data' ? 12 : 324"},
"fill": {"value": "transparent"},
"strokeWidth": {"signal": "datum.value === 'Raw data' ? 1 : 1.5"}}}}}}
}},
{"mark": {"type": "line", "strokeWidth": 1, "interpolate": "monotone"},
"encoding": {"y": {"field": "c", "type": "quantitative"}, "detail": {"field": "s"}, "color": {"datum": "Cumulative", "type": "nominal"}}},
{"mark": {"type": "point", "shape": "circle", "filled": false, "size": 14, "strokeWidth": 0.9, "opacity": 1},
"encoding": {"y": {"field": "r", "type": "quantitative"}, "color": {"datum": "Raw data", "type": "nominal"}}},
{"transform": [{"filter": "datum.x == 98"}],
"mark": {"type": "text", "align": "right", "baseline": "bottom", "dx": -5, "dy": -4, "font": "Lato", "fontSize": 7.5, "fontWeight": "bold", "color": "#1a1a1a"},
"encoding": {"y": {"field": "c", "type": "quantitative"}, "text": {"field": "s"}}},
{"transform": [{"filter": "datum.x == 98 && datum.s == 'SP'"}],
"mark": {"type": "text", "text": "Si 2p", "align": "right", "baseline": "middle", "font": "Lato", "fontSize": 8.5, "fontWeight": "bold", "color": "#1a1a1a"},
"encoding": {"x": {"datum": 98.2}, "y": {"datum": 287}}}
]
}
],
"resolve": {"scale": {"color": "independent"}, "legend": {"color": "independent"}},
"config": {
"view": {"stroke": "#555555", "strokeWidth": 1},
"axis": {"grid": false, "domain": false, "labelFont": "Lato", "labelFontWeight": "bold", "labelFontSize": 8.5, "labelColor": "#1a1a1a", "titleFont": "Lato", "titleFontWeight": "bold", "titleFontSize": 9.5, "titleColor": "#1a1a1a", "labelFlush": false, "labelOverlap": false},
"axisY": {"titleFontSize": 12.5, "minExtent": 0},
"legend": {"orient": "top-left", "labelFont": "Lato", "labelFontWeight": "bold", "labelFontSize": 7, "labelColor": "#1a1a1a", "padding": 0, "rowPadding": 1, "symbolSize": 81, "symbolType": "stroke", "symbolStrokeWidth": 1.5, "labelOffset": 8}
}
}
